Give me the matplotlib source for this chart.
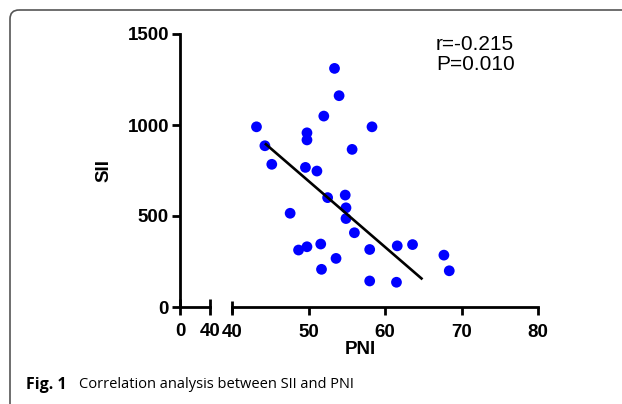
import matplotlib
matplotlib.use("Agg")
import matplotlib.pyplot as plt
from matplotlib.patches import FancyBboxPatch

# ---- data ----
pni = [53.4, 54.0, 52.0, 43.2, 58.3, 49.8, 49.8, 44.3, 55.7, 45.2,
       49.6, 51.1, 52.5, 54.8, 47.6, 54.9, 54.9, 56.0, 48.7, 49.8,
       51.6, 58.0, 61.6, 63.6, 67.7, 53.6, 51.7, 68.4, 58.0, 61.5]
sii = [1311, 1161, 1049, 990, 990, 957, 918, 886, 866, 784,
       767, 747, 601, 615, 515, 545, 486, 408, 313, 331,
       346, 316, 336, 343, 285, 267, 207, 199, 143, 136]
fit_x = [44.3, 64.9]
fit_y = [899, 152]
x_left_ticks = [0, 40]
x_right_ticks = [40, 50, 60, 70, 80]
y_ticks = [0, 500, 1000, 1500]
stat_lines = ["r=-0.215", "P=0.010"]

W, H = 622, 404
fig = plt.figure(figsize=(W / 100, H / 100), dpi=100)

def fx(px):
    return px / W

def fy(py):
    return 1 - py / H

# background frame drawn in pixel coordinates
bg = fig.add_axes([0, 0, 1, 1], zorder=-10)
bg.set_xlim(0, W)
bg.set_ylim(H, 0)
bg.axis("off")
bg.add_patch(FancyBboxPatch((10, 10), 700, 420,
                            boxstyle="round,pad=0,rounding_size=9",
                            fill=False, edgecolor="#555555", lw=1.2))

y0, y1 = 307, 34
axL = fig.add_axes([fx(180), fy(y0), fx(210) - fx(180), fy(y1) - fy(y0)])
axR = fig.add_axes([fx(232), fy(y0), fx(538) - fx(232), fy(y1) - fy(y0)])

tickfont = dict(fontsize=13.5, fontweight="bold", family="Liberation Sans")
lw = 2.0

for ax in (axL, axR):
    ax.set_ylim(0, 1500)
    ax.spines["top"].set_visible(False)
    ax.spines["right"].set_visible(False)
    ax.spines["bottom"].set_linewidth(lw)
    ax.spines["left"].set_linewidth(lw)
    ax.patch.set_alpha(0)

axL.set_xlim(0, 40)
axL.set_xticks(x_left_ticks)
axL.set_xticklabels([str(v) for v in x_left_ticks], **tickfont)
axL.set_yticks(y_ticks)
axL.set_yticklabels([str(v) for v in y_ticks], **tickfont)
axL.tick_params(axis="x", direction="inout", length=11, width=lw, pad=6)
axL.tick_params(axis="y", direction="out", length=6, width=lw, pad=2)

axR.set_xlim(40, 80)
axR.set_xticks(x_right_ticks)
axR.set_xticklabels([str(v) for v in x_right_ticks], **tickfont)
axR.spines["left"].set_visible(False)
axR.set_yticks([])
axR.tick_params(axis="x", direction="out", length=6, width=lw, pad=6)
# break tick at the start of the right segment
axR.plot([x_right_ticks[0]], [0], marker="|", markersize=8, markeredgewidth=lw,
         color="black", clip_on=False, zorder=5)

axR.scatter(pni, sii, s=60, color="#0000ff", edgecolors="none", zorder=3, clip_on=False)
axR.plot(fit_x, fit_y, color="black", lw=1.9, zorder=4, solid_capstyle="butt")

fig.text(fx(104), fy(171), "SII", rotation=90, ha="center", va="center",
         fontsize=13.5, fontweight="bold", family="Liberation Sans")
fig.text(fx(360), fy(350), "PNI", ha="center", va="center",
         fontsize=13.5, fontweight="bold", family="Liberation Sans")

fig.text(fx(436), fy(44.5), stat_lines[0], ha="left", va="center",
         fontsize=15, family="Liberation Sans")
fig.text(fx(436), fy(65), stat_lines[1], ha="left", va="center",
         fontsize=15, family="Liberation Sans")

fig.text(fx(26), fy(385), "Fig. 1", ha="left", va="center", fontsize=11.5,
         fontweight="bold", family="Open Sans")
fig.text(fx(79), fy(385), "Correlation analysis between SII and PNI", ha="left",
         va="center", fontsize=10.5, family="Open Sans")

fig.savefig("out.png", dpi=100)
